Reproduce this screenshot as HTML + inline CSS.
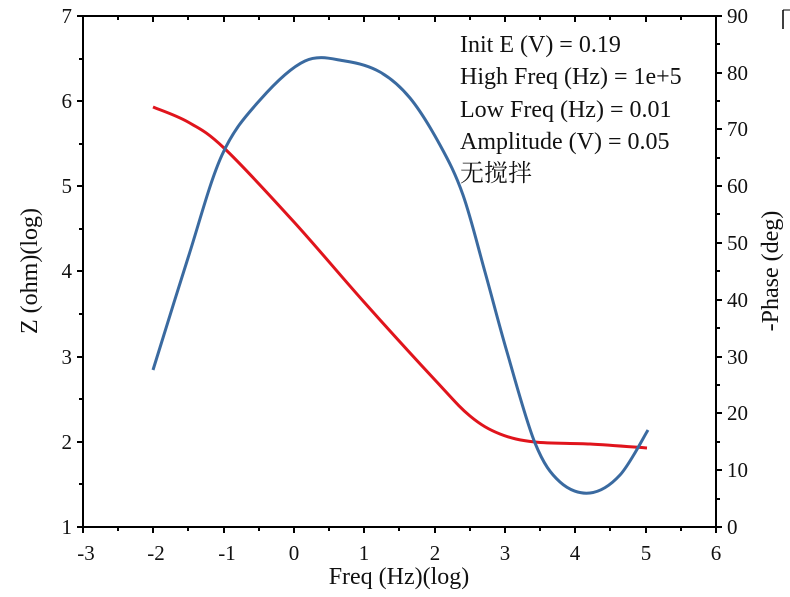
<!DOCTYPE html>
<html><head><meta charset="utf-8"><style>body{margin:0;background:#fff}svg{display:block}text{font-family:"Liberation Serif","Noto Serif CJK SC",serif;fill:#111}</style></head><body>
<svg width="790" height="597" viewBox="0 0 790 597">
<g stroke="#000" stroke-width="2" fill="none">
<rect x="83" y="16" width="633" height="511"/>
<path d="M83 527v6M118 527v4M153 527v6M188 527v4M224 527v6M259 527v4M294 527v6M329 527v4M364 527v6M399 527v4M435 527v6M470 527v4M505 527v6M540 527v4M575 527v6M610 527v4M646 527v6M681 527v4M716 527v6"/>
<path d="M83 16v6M118 16v4M153 16v6M188 16v4M224 16v6M259 16v4M294 16v6M329 16v4M364 16v6M399 16v4M435 16v6M470 16v4M505 16v6M540 16v4M575 16v6M610 16v4M646 16v6M681 16v4M716 16v6"/>
<path d="M83 16h-6M83 59h-4M83 101h-6M83 144h-4M83 186h-6M83 229h-4M83 271h-6M83 314h-4M83 357h-6M83 399h-4M83 442h-6M83 484h-4M83 527h-6"/>
<path d="M716 16h6M716 44h4M716 73h6M716 101h4M716 129h6M716 158h4M716 186h6M716 214h4M716 243h6M716 271h4M716 300h6M716 328h4M716 357h6M716 385h4M716 413h6M716 442h4M716 470h6M716 499h4M716 527h6"/>
<path d="M783 10v19" stroke-width="1.5"/><path d="M783 10h7" stroke-width="1"/>
</g>
<g font-size="21" text-anchor="end">
<text x="72" y="23">7</text><text x="72" y="108">6</text><text x="72" y="193">5</text><text x="72" y="278">4</text><text x="72" y="364">3</text><text x="72" y="449">2</text><text x="72" y="534">1</text>
</g>
<g font-size="21" text-anchor="start">
<text x="727" y="23">90</text><text x="727" y="80">80</text><text x="727" y="136">70</text><text x="727" y="193">60</text><text x="727" y="250">50</text><text x="727" y="307">40</text><text x="727" y="364">30</text><text x="727" y="420">20</text><text x="727" y="477">10</text><text x="727" y="534">0</text>
</g>
<g font-size="21" text-anchor="middle">
<text x="86" y="560">-3</text><text x="156" y="560">-2</text><text x="227" y="560">-1</text><text x="294" y="560">0</text><text x="364" y="560">1</text><text x="435" y="560">2</text><text x="505" y="560">3</text><text x="575" y="560">4</text><text x="646" y="560">5</text><text x="716" y="560">6</text>
</g>
<text x="399" y="584" font-size="24" text-anchor="middle">Freq (Hz)(log)</text>
<text transform="translate(37 271) rotate(-90)" font-size="24" text-anchor="middle">Z (ohm)(log)</text>
<text transform="translate(778 271) rotate(-90)" font-size="24" text-anchor="middle">-Phase (deg)</text>
<g font-size="24">
<text x="460" y="52">Init E (V) = 0.19</text>
<text x="460" y="84">High Freq (Hz) = 1e+5</text>
<text x="460" y="117">Low Freq (Hz) = 0.01</text>
<text x="460" y="149">Amplitude (V) = 0.05</text>
<text x="460" y="181">无搅拌</text>
</g>
<path id="red" stroke="#e0141c" stroke-width="3" fill="none"/>
<path id="blue" stroke="#3a6aa0" stroke-width="3" fill="none"/>
</svg>
<script>
function cr(p){var d="M"+p[0][0]+" "+p[0][1];for(var i=0;i<p.length-1;i++){var a=p[i-1]||p[i],b=p[i],c=p[i+1],e=p[i+2]||c;d+=" C"+(b[0]+(c[0]-a[0])/6)+" "+(b[1]+(c[1]-a[1])/6)+","+(c[0]-(e[0]-b[0])/6)+" "+(c[1]-(e[1]-b[1])/6)+","+c[0]+" "+c[1];}return d;}
document.getElementById("red").setAttribute("d",cr([[153,107],[188,122],[224,148],[294,222],[364,302],[435,380],[470,416],[500,434],[535,442],[590,444],[647,448]]));
document.getElementById("blue").setAttribute("d",cr([[153,370],[188,258],[222,155],[260,100],[305,61],[345,61],[380,72],[410,98],[440,145],[463,195],[485,272],[507,352],[535,443],[560,482],[590,493],[620,475],[648,430]]));
</script>
</body></html>
